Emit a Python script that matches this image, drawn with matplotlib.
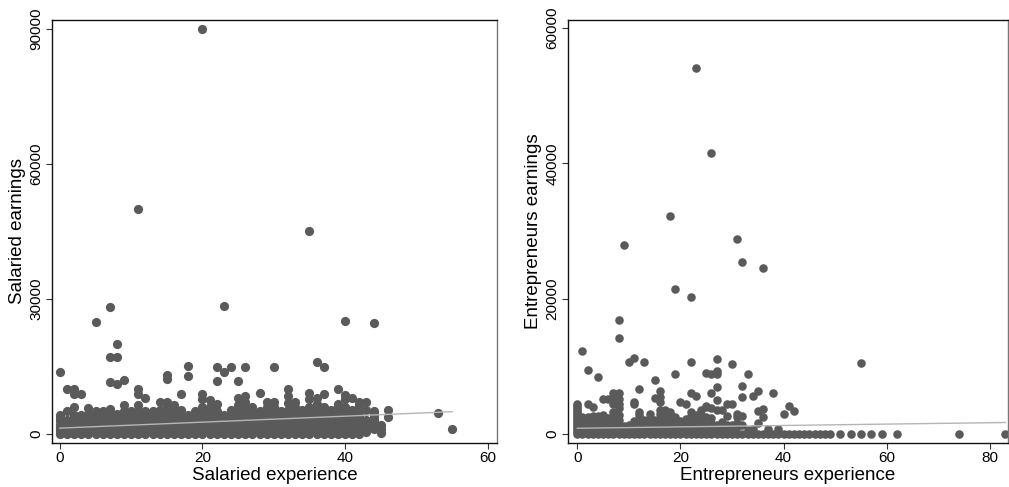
import numpy as np
import matplotlib.pyplot as plt

plt.rcParams['font.family'] = ['Liberation Sans', 'DejaVu Sans']

# Salaried workers: experience -> earnings
low = [0, 700, 1400, 2100, 2800, 3500]
salaried = {
    0: low + [4200, 13800],
    1: [0, 700, 1400, 2100, 3100, 5000, 9900],
    2: low + [4200, 6100, 8900, 9900],
    3: low + [4200, 8900],
    4: low + [4500, 5800],
    5: low + [4300, 5200, 24900],
    6: low + [4300, 5200],
    7: low + [4300, 5600, 11500, 17000, 28300],
    8: low + [4500, 11000, 17000, 20000],
    9: low + [4300, 5200, 6400, 12000],
    10: low + [4300, 5000],
    11: low + [4300, 5200, 6400, 8900, 9900, 49900],
    12: low + [4300, 5000, 7900],
    13: low + [4300, 5000],
    14: low + [4300, 5400, 7000],
    15: low + [4300, 5200, 6100, 7000, 12100, 13200],
    16: low + [4300, 5000, 5700, 6400],
    17: low + [4300, 5400, 8800],
    18: low + [4200, 12900, 15000],
    19: low + [4300, 5000],
    20: low + [4300, 5200, 6000, 7700, 8800, 89800],
    21: low + [4300, 5200, 6100, 7500],
    22: low + [4300, 5000, 6600, 11800, 14900],
    23: low + [4200, 13800, 28400],
    24: low + [4300, 5300, 14900],
    25: low + [4300, 5200, 6400, 8000, 11800],
    26: low + [4300, 5200, 6100, 7000, 8400, 14900],
    27: low + [4300, 5200, 6100],
    28: low + [4300, 5000, 9200],
    29: low + [4300, 5200, 6100, 7000],
    30: low + [4300, 5200, 6100, 7000, 14900],
    31: low + [4300, 5000],
    32: low + [4300, 5300, 6950, 8400, 9900],
    33: low + [4300, 5200, 6100, 7000],
    34: low + [4300, 5400],
    35: low + [4300, 5200, 6100, 7700, 9000, 45000],
    36: low + [4300, 5200, 6000, 6600, 8100, 15900],
    37: low + [4300, 5000, 6000, 8900, 14900],
    38: low + [4300, 5300],
    39: low + [4300, 5200, 6000, 6600, 9900],
    40: low + [4300, 5200, 6100, 7700, 8700, 25100],
    41: low + [4300, 5300, 8000],
    42: low + [4300, 5200, 6000, 6600, 7000],
    43: [500, 1200, 1900, 2600, 3000, 5300, 7200],
    44: [1000, 1700, 2400, 3100, 3800, 4400, 5000, 24600],
    45: [300, 1200, 2000],
    46: [3800, 5400],
    53: [4600],
    55: [1100],
}
salaried_fit_x = [0, 55]
salaried_fit_y = [1300, 4950]

# Entrepreneurs: experience -> earnings
entrepreneurs = {
    0: [0, 300, 600, 900, 1200, 1500, 1800, 2100, 2400, 2700, 3000, 3300,
        3600, 3900, 4200, 4500],
    1: [0, 500, 1000, 1500, 2000, 2500, 12300],
    2: [0, 500, 1000, 1500, 2000, 2500, 4500, 9400],
    3: [0, 500, 1000, 1500, 2000, 2600, 4000],
    4: [0, 500, 1000, 1600, 2200, 2700, 8500],
    5: [0, 500, 1100, 1700, 2300, 2800, 5200],
    6: [0, 600, 1200, 1800, 2400, 5200],
    7: [0, 600, 1300, 2000, 2600, 3200, 4400, 5200, 6000],
    8: [0, 700, 1400, 2100, 2800, 3800, 4400, 5200, 6000, 14200, 16800],
    9: [0, 500, 1200, 27900],
    10: [0, 700, 1300, 10700],
    11: [0, 600, 1200, 1900, 4400, 4800, 11200],
    12: [0, 900, 1600, 2200, 2800, 3300, 6600],
    13: [0, 700, 1300, 2000, 10700],
    14: [0, 1000, 1600, 2300, 2900],
    15: [0, 700, 1400, 2100, 5300, 8000],
    16: [0, 800, 1500, 2200, 3000, 3500, 4800, 5500, 6400],
    17: [0, 600, 1300, 2000, 2700, 3500],
    18: [0, 900, 1600, 2300, 3000, 3300, 32300],
    19: [0, 700, 1500, 2500, 8800, 21500],
    20: [0, 600, 1300, 1900, 4800],
    21: [0, 800, 1500, 2200, 4400],
    22: [0, 500, 1100, 1800, 2600, 3300, 6000, 10700, 20200],
    23: [0, 700, 1400, 2100, 2800, 5600, 54100],
    24: [0, 600, 1300, 2100, 2800, 3600],
    25: [0, 700, 1300, 2500, 4000, 4100, 9000],
    26: [0, 1000, 1700, 2400, 3800, 6000, 8800, 41600],
    27: [0, 700, 1400, 3500, 5000, 6900, 8800, 9300, 11100],
    28: [0, 1000, 1800, 3500],
    29: [0, 700, 1400, 2700, 4400],
    30: [0, 600, 1300, 4400, 10300],
    31: [0, 1000, 1600, 2500, 3000, 28900],
    32: [0, 1300, 2700, 5400, 7100, 25500],
    33: [0, 600, 8800],
    34: [0, 700, 5600],
    35: [0, 1600, 3400, 6400],
    36: [0, 2500, 3700, 24500],
    37: [0, 800],
    38: [0, 6000],
    39: [0, 700],
    40: [0, 3000],
    41: [0, 4100],
    42: [0, 3400],
    43: [0], 44: [0], 45: [0], 46: [0], 47: [0], 48: [0], 49: [0],
    51: [0], 53: [0], 55: [0, 10500], 57: [0], 59: [0], 62: [0],
    74: [0], 83: [0],
}
entrepreneurs_fit_x = [0, 83]
entrepreneurs_fit_y = [850, 1700]

DOT = '#5a5a5a'
FIT = '#b5b5b5'


def flatten(table):
    xs, ys = [], []
    for exp, vals in table.items():
        for v in vals:
            xs.append(exp)
            ys.append(v)
    return np.array(xs), np.array(ys)


def drawPanel(ax, table, fitX, fitY, xlabel, ylabel, xlim, ylim, xticks, yticks, size):
    x, y = flatten(table)
    ax.scatter(x, y, s=size, color=DOT, linewidths=0, zorder=2)
    ax.plot(fitX, fitY, color=FIT, linewidth=1.0, zorder=3)
    ax.set_xlim(xlim)
    ax.set_ylim(ylim)
    ax.set_xticks(xticks)
    ax.set_yticks(yticks)
    ax.set_xlabel(xlabel, fontsize=13.5, labelpad=1)
    ax.set_ylabel(ylabel, fontsize=13.5, labelpad=3)
    ax.tick_params(direction='out', length=4, width=0.8, color='#333333',
                   labelsize=11, pad=2)
    for lab in ax.get_yticklabels():
        lab.set_rotation(90)
        lab.set_va('center')
    for sp in ax.spines.values():
        sp.set_linewidth(1.0)
        sp.set_color('#111111')
    ax.spines['right'].set_color('#777777')


def main():
    fig = plt.figure(figsize=(10.09, 4.87), dpi=100)
    axL = fig.add_axes([52 / 1009, 44 / 487, 445 / 1009, 423 / 487])
    axR = fig.add_axes([568 / 1009, 44 / 487, 440 / 1009, 423 / 487])

    drawPanel(axL, salaried, salaried_fit_x, salaried_fit_y,
              'Salaried experience', 'Salaried earnings',
              (-1.1, 61.3), (-2000, 91900), [0, 20, 40, 60],
              [0, 30000, 60000, 90000], 44)
    drawPanel(axR, entrepreneurs, entrepreneurs_fit_x, entrepreneurs_fit_y,
              'Entrepreneurs experience', 'Entrepreneurs earnings',
              (-1.8, 83.5), (-1330, 61200), [0, 20, 40, 60, 80],
              [0, 20000, 40000, 60000], 38)

    fig.savefig('out.png', dpi=100)


if __name__ == "__main__":
    main()
